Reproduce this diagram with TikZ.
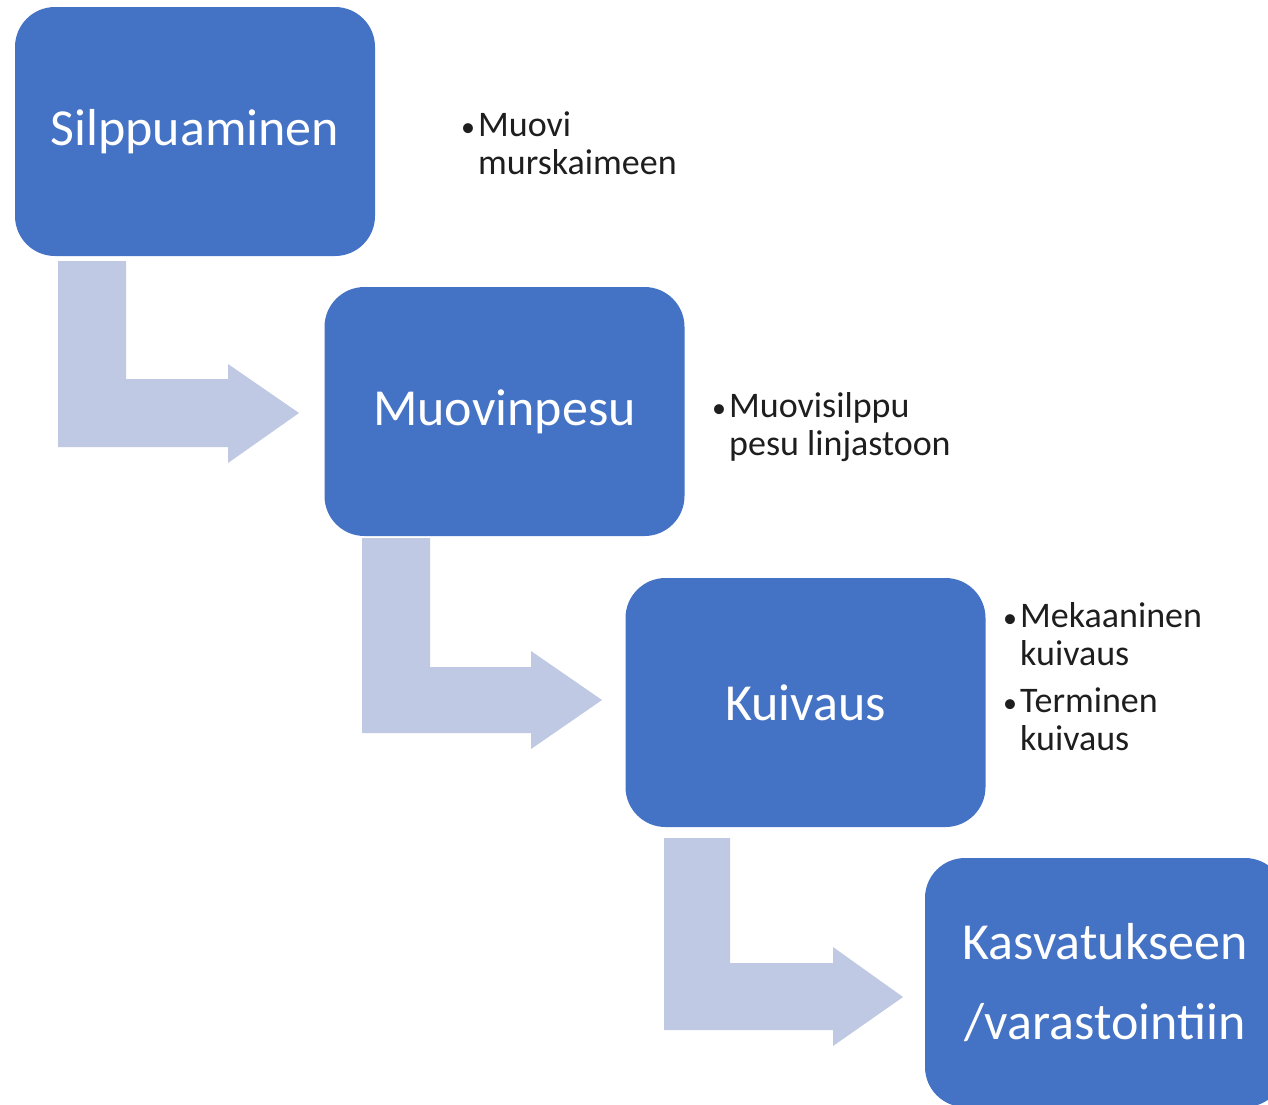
\documentclass[tikz,border=0pt]{standalone}
\usepackage{fontspec}
\setmainfont{Carlito}
\definecolor{boxblue}{RGB}{68,114,196}
\definecolor{arrowblue}{RGB}{191,201,227}
\definecolor{txt}{RGB}{30,30,30}
\begin{document}
\begin{tikzpicture}[x=1pt,y=-1pt,
  stage/.style={draw=none,fill=boxblue,rounded corners=40pt,minimum width=360pt,minimum height=249pt,
    text=white,font=\fontsize{52}{80}\selectfont,align=center,inner sep=0pt},
  bentarrow/.style={fill=arrowblue,draw=none},
  bullets/.style={anchor=base west,text=txt,font=\fontsize{36}{38}\selectfont,align=left,inner sep=0pt}]
\useasboundingbox (0,0) rectangle (1268,1104);
\clip (0,0) rectangle (1268,1104);
% stages
\node[stage] (s1) at (195,131.5) {Silppuaminen};
\node[stage] (s2) at (504.5,411.5) {Muovinpesu};
\node[stage] (s3) at (805.5,702.5) {Kuivaus};
\node[stage] (s4) at (1105,982.5) {Kasvatukseen\\/varastointiin};
% bent arrows
\fill[bentarrow] (58,261) -- (126,261) -- (126,379) -- (228,379) -- (228,364) -- (299,413)
  -- (228,463) -- (228,447) -- (58,447) -- cycle;
\fill[bentarrow] (362,538) -- (430,538) -- (430,667) -- (531,667) -- (531,651) -- (602,700)
  -- (531,749) -- (531,733) -- (362,733) -- cycle;
\fill[bentarrow] (664,838) -- (730,838) -- (730,963) -- (833,963) -- (833,947) -- (903,997)
  -- (833,1046) -- (833,1030) -- (664,1030) -- cycle;
% bullet texts
\newcommand{\bul}{\makebox[17pt][l]{\fontsize{28}{38}\selectfont •}}
\newcommand{\ind}{\hspace*{17pt}}
\node[bullets] (t1) at (461,174) {\bul Muovi\\\ind murskaimeen};
\node[bullets] (t2) at (712,455) {\bul Muovisilppu\\\ind pesu linjastoon};
\node[bullets] (t3a) at (1003,665) {\bul Mekaaninen\\\ind kuivaus};
\node[bullets] (t3b) at (1003,750) {\bul Terminen\\\ind kuivaus};
\end{tikzpicture}
\end{document}
